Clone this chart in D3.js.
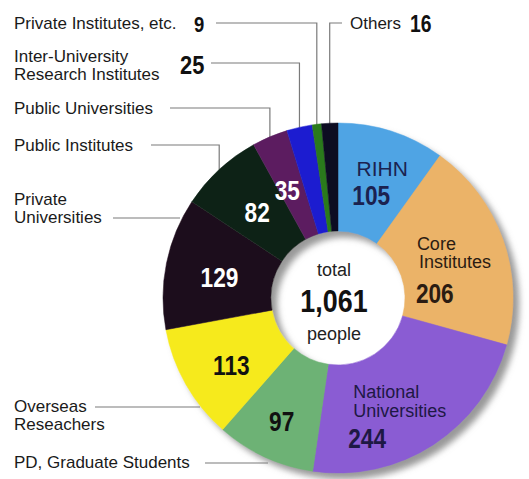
<!DOCTYPE html>
<html>
<head>
<meta charset="utf-8">
<script src="https://cdn.jsdelivr.net/npm/d3@7"></script>
<style>
  body { margin: 0; background: #fff; }
  text { font-family: "Liberation Sans", Arial, sans-serif; }
  .num { font-weight: bold; }
</style>
</head>
<body>
<div id="chart"></div>
<script>
// data, clockwise from 12 o'clock
var names = ["RIHN", "Core Institutes", "National Universities", "PD, Graduate Students",
  "Overseas Researchers", "Private Universities", "Public Institutes", "Public Universities",
  "Inter-University Research Institutes", "Private Institutes, etc.", "Others"];
var counts = [105, 206, 244, 97, 113, 129, 82, 35, 25, 9, 16];
var colors = ["#4fa4e4", "#ebb367", "#8a5cd3", "#6db274", "#f6ea1e", "#1f0a1c",
  "#0e2419", "#5b1f60", "#1b1bd0", "#2b7a1d", "#0b0f24"];
var totalLabel = "1,061";

var svgWidth = 529;
var svgHeight = 479;
var cx = 338, cy = 298;
var outerR = 175, innerR = 67;
var narrow = 0.84; // condensed look of the bold figures

var svg = d3.select("#chart")
  .append("svg")
  .attr("width", svgWidth)
  .attr("height", svgHeight);

var defs = svg.append("defs");
defs.append("filter")
  .attr("id", "shadow")
  .attr("x", "-20%").attr("y", "-20%")
  .attr("width", "140%").attr("height", "140%")
  .append("feDropShadow")
  .attr("dx", 6).attr("dy", 6)
  .attr("stdDeviation", 3)
  .attr("flood-color", "#777")
  .attr("flood-opacity", 0.75);

var pie = d3.pie().sort(null).value(d => d);
var arcs = pie(counts);

var arc = d3.arc().innerRadius(innerR).outerRadius(outerR);
var labelArc = d3.arc().innerRadius(125).outerRadius(125);

function edgePoint(i) {
  var a = (arcs[i].startAngle + arcs[i].endAngle) / 2;
  return [cx + outerR * Math.sin(a), cy - outerR * Math.cos(a)];
}

function numText(g, x, y, size, txt, fill, anchor) {
  return g.append("text")
    .attr("class", "num")
    .attr("transform", `translate(${x}, ${y}) scale(${narrow}, 1)`)
    .attr("font-size", size)
    .attr("text-anchor", anchor || "start")
    .attr("fill", fill)
    .text(txt);
}

// leader lines + outside labels
var lineColor = "#7a7a7a";
var outside = [
  { i: 9, lines: ["Private Institutes, etc."], x: 14, y: 29, num: "9", nx: 194, ny: 32, ns: 22, ly: 23, lx: 216 },
  { i: 10, lines: ["Others"], x: 350, y: 29, num: "16", nx: 410, ny: 32, ns: 23, ly: 23, lx: 342 },
  { i: 8, lines: ["Inter-University", "Research Institutes"], x: 14, y: 62, num: "25", nx: 180, ny: 74, ns: 26, ly: 63, lx: 211 },
  { i: 7, lines: ["Public Universities"], x: 14, y: 114, ly: 108, lx: 170 },
  { i: 6, lines: ["Public Institutes"], x: 14, y: 151, ly: 145, lx: 151 },
  { i: 5, lines: ["Private", "Universities"], x: 14, y: 205, ly: 218, lx: 113, ex: 180 },
  { i: 4, lines: ["Overseas", "Reseachers"], x: 14, y: 412, ly: 407, lx: 95, ex: 200 },
  { i: 3, lines: ["PD, Graduate Students"], x: 14, y: 468, ly: 463, lx: 205, ex: 268 }
];

var leaders = svg.append("g");
outside.forEach(function(o) {
  var pts;
  if (o.ex) {
    pts = [[o.lx, o.ly], [o.ex, o.ly]];
  } else {
    var p = edgePoint(o.i);
    pts = [[o.lx, o.ly], [p[0], o.ly], [p[0], p[1] + 6]];
  }
  leaders.append("path")
    .attr("d", d3.line()(pts))
    .attr("fill", "none")
    .attr("stroke", lineColor)
    .attr("stroke-width", 1.2);

  var t = leaders.append("text")
    .attr("x", o.x)
    .attr("y", o.y)
    .attr("font-size", 17)
    .attr("fill", "#1a1a1a");
  o.lines.forEach(function(s, k) {
    t.append("tspan").attr("x", o.x).attr("dy", k === 0 ? 0 : 18).text(s);
  });
  if (o.num) numText(leaders, o.nx, o.ny, o.ns, o.num, "#111");
});

// ring
var ring = svg.append("g")
  .attr("transform", `translate(${cx}, ${cy})`)
  .attr("filter", "url(#shadow)");

ring.selectAll("path")
  .data(arcs)
  .enter()
  .append("path")
  .attr("d", arc)
  .attr("fill", (d, i) => colors[i])
  .attr("stroke", (d, i) => colors[i])
  .attr("stroke-width", 0.5);

// labels inside the ring (offsets from the slice centroid)
var inside = [
  { i: 0, fill: "#1b2250", rows: [
    { t: "RIHN", dx: 6, dy: -3, s: 21, anchor: "middle" },
    { t: "105", dx: -5, dy: 26, s: 27, num: true, anchor: "middle" }] },
  { i: 1, fill: "#2b1c12", rows: [
    { t: "Core", dx: -39, dy: -6, s: 18 },
    { t: "Institutes", dx: -37, dy: 12, s: 18 },
    { t: "206", dx: -40, dy: 47, s: 27, num: true }] },
  { i: 2, fill: "#1e1844", rows: [
    { t: "National", dx: -53, dy: -5, s: 18 },
    { t: "Universities", dx: -53, dy: 14, s: 18 },
    { t: "244", dx: -58, dy: 45, s: 27, num: true }] },
  { i: 3, fill: "#111", rows: [{ t: "97", dx: -4, dy: 19, s: 27, num: true, anchor: "middle" }] },
  { i: 4, fill: "#111", rows: [{ t: "113", dx: 2, dy: 15, s: 27, num: true, anchor: "middle" }] },
  { i: 5, fill: "#fff", rows: [{ t: "129", dx: 4, dy: 14, s: 27, num: true, anchor: "middle" }] },
  { i: 6, fill: "#fff", rows: [{ t: "82", dx: 4, dy: 16, s: 27, num: true, anchor: "middle" }] },
  { i: 7, fill: "#fff", rows: [{ t: "35", dx: -2, dy: 17, s: 27, num: true, anchor: "middle" }] }
];

var labels = svg.append("g").attr("transform", `translate(${cx}, ${cy})`);
inside.forEach(function(l) {
  var c = labelArc.centroid(arcs[l.i]);
  l.rows.forEach(function(r) {
    if (r.num) {
      numText(labels, c[0] + r.dx, c[1] + r.dy, r.s, r.t, l.fill, r.anchor);
    } else {
      labels.append("text")
        .attr("x", c[0] + r.dx)
        .attr("y", c[1] + r.dy)
        .attr("font-size", r.s)
        .attr("text-anchor", r.anchor || "start")
        .attr("fill", l.fill)
        .text(r.t);
    }
  });
});

// centre
var centre = svg.append("g").attr("transform", `translate(${cx - 4}, ${cy})`);
centre.append("text").attr("y", -22).attr("text-anchor", "middle")
  .attr("font-size", 18).attr("fill", "#222").text("total");
numText(centre, 0, 14, 32, totalLabel, "#111", "middle");
centre.append("text").attr("y", 42).attr("text-anchor", "middle")
  .attr("font-size", 18).attr("fill", "#222").text("people");
</script>
</body>
</html>
